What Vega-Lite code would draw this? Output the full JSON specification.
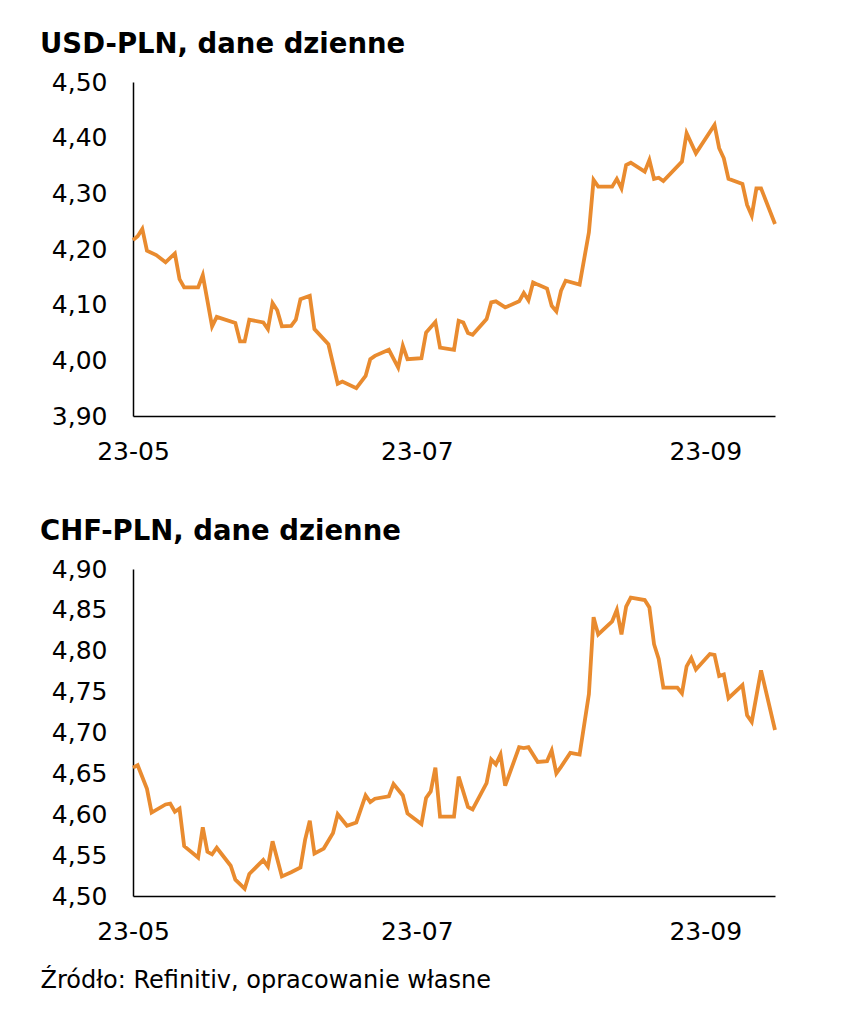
{
  "$schema": "https://vega.github.io/schema/vega-lite/v6.json",
  "background": "white",
  "padding": {"left": 40, "top": 30, "right": 10, "bottom": 10},
  "config": {
    "view": {"stroke": null},
    "font": "DejaVu Sans",
    "concat": {"spacing": 53},
    "axis": {
      "grid": false,
      "ticks": false,
      "domainColor": "black",
      "domainWidth": 1.5,
      "labelColor": "black",
      "labelFont": "DejaVu Sans",
      "labelFontSize": 25,
      "labelOverlap": false,
      "labelFlush": false
    }
  },
  "datasets": {
    "usd": [
      {"date": "2023-05-01", "value": 4.216},
      {"date": "2023-05-02", "value": 4.223},
      {"date": "2023-05-03", "value": 4.236},
      {"date": "2023-05-04", "value": 4.197},
      {"date": "2023-05-06", "value": 4.189},
      {"date": "2023-05-08", "value": 4.176},
      {"date": "2023-05-10", "value": 4.192},
      {"date": "2023-05-11", "value": 4.146},
      {"date": "2023-05-12", "value": 4.131},
      {"date": "2023-05-15", "value": 4.131},
      {"date": "2023-05-16", "value": 4.153},
      {"date": "2023-05-18", "value": 4.061},
      {"date": "2023-05-19", "value": 4.078},
      {"date": "2023-05-23", "value": 4.067},
      {"date": "2023-05-24", "value": 4.034},
      {"date": "2023-05-25", "value": 4.034},
      {"date": "2023-05-26", "value": 4.073},
      {"date": "2023-05-29", "value": 4.068},
      {"date": "2023-05-30", "value": 4.056},
      {"date": "2023-05-31", "value": 4.103},
      {"date": "2023-06-01", "value": 4.090},
      {"date": "2023-06-02", "value": 4.061},
      {"date": "2023-06-04", "value": 4.062},
      {"date": "2023-06-05", "value": 4.073},
      {"date": "2023-06-06", "value": 4.110},
      {"date": "2023-06-08", "value": 4.116},
      {"date": "2023-06-09", "value": 4.056},
      {"date": "2023-06-12", "value": 4.029},
      {"date": "2023-06-14", "value": 3.958},
      {"date": "2023-06-15", "value": 3.962},
      {"date": "2023-06-18", "value": 3.950},
      {"date": "2023-06-20", "value": 3.972},
      {"date": "2023-06-21", "value": 4.002},
      {"date": "2023-06-22", "value": 4.008},
      {"date": "2023-06-25", "value": 4.019},
      {"date": "2023-06-27", "value": 3.987},
      {"date": "2023-06-28", "value": 4.026},
      {"date": "2023-06-29", "value": 4.002},
      {"date": "2023-07-02", "value": 4.004},
      {"date": "2023-07-03", "value": 4.050},
      {"date": "2023-07-05", "value": 4.069},
      {"date": "2023-07-06", "value": 4.023},
      {"date": "2023-07-09", "value": 4.019},
      {"date": "2023-07-10", "value": 4.071},
      {"date": "2023-07-11", "value": 4.068},
      {"date": "2023-07-12", "value": 4.049},
      {"date": "2023-07-13", "value": 4.046},
      {"date": "2023-07-16", "value": 4.074},
      {"date": "2023-07-17", "value": 4.104},
      {"date": "2023-07-18", "value": 4.106},
      {"date": "2023-07-20", "value": 4.095},
      {"date": "2023-07-23", "value": 4.106},
      {"date": "2023-07-24", "value": 4.121},
      {"date": "2023-07-25", "value": 4.108},
      {"date": "2023-07-26", "value": 4.140},
      {"date": "2023-07-27", "value": 4.136},
      {"date": "2023-07-29", "value": 4.129},
      {"date": "2023-07-30", "value": 4.098},
      {"date": "2023-07-31", "value": 4.088},
      {"date": "2023-08-01", "value": 4.125},
      {"date": "2023-08-02", "value": 4.143},
      {"date": "2023-08-05", "value": 4.136},
      {"date": "2023-08-07", "value": 4.230},
      {"date": "2023-08-08", "value": 4.324},
      {"date": "2023-08-09", "value": 4.312},
      {"date": "2023-08-12", "value": 4.312},
      {"date": "2023-08-13", "value": 4.326},
      {"date": "2023-08-14", "value": 4.309},
      {"date": "2023-08-15", "value": 4.351},
      {"date": "2023-08-16", "value": 4.355},
      {"date": "2023-08-19", "value": 4.339},
      {"date": "2023-08-20", "value": 4.360},
      {"date": "2023-08-21", "value": 4.326},
      {"date": "2023-08-22", "value": 4.328},
      {"date": "2023-08-23", "value": 4.322},
      {"date": "2023-08-27", "value": 4.357},
      {"date": "2023-08-28", "value": 4.408},
      {"date": "2023-08-30", "value": 4.372},
      {"date": "2023-09-03", "value": 4.423},
      {"date": "2023-09-04", "value": 4.381},
      {"date": "2023-09-05", "value": 4.363},
      {"date": "2023-09-06", "value": 4.326},
      {"date": "2023-09-09", "value": 4.317},
      {"date": "2023-09-10", "value": 4.279},
      {"date": "2023-09-11", "value": 4.260},
      {"date": "2023-09-12", "value": 4.309},
      {"date": "2023-09-13", "value": 4.309},
      {"date": "2023-09-16", "value": 4.245}
    ],
    "chf": [
      {"date": "2023-05-01", "value": 4.657},
      {"date": "2023-05-02", "value": 4.660},
      {"date": "2023-05-04", "value": 4.631},
      {"date": "2023-05-05", "value": 4.602},
      {"date": "2023-05-08", "value": 4.612},
      {"date": "2023-05-09", "value": 4.613},
      {"date": "2023-05-10", "value": 4.603},
      {"date": "2023-05-11", "value": 4.607},
      {"date": "2023-05-12", "value": 4.561},
      {"date": "2023-05-15", "value": 4.547},
      {"date": "2023-05-16", "value": 4.584},
      {"date": "2023-05-17", "value": 4.554},
      {"date": "2023-05-18", "value": 4.551},
      {"date": "2023-05-19", "value": 4.559},
      {"date": "2023-05-22", "value": 4.537},
      {"date": "2023-05-23", "value": 4.520},
      {"date": "2023-05-25", "value": 4.509},
      {"date": "2023-05-26", "value": 4.527},
      {"date": "2023-05-29", "value": 4.544},
      {"date": "2023-05-30", "value": 4.536},
      {"date": "2023-05-31", "value": 4.567},
      {"date": "2023-06-02", "value": 4.524},
      {"date": "2023-06-04", "value": 4.529},
      {"date": "2023-06-06", "value": 4.535},
      {"date": "2023-06-07", "value": 4.569},
      {"date": "2023-06-08", "value": 4.592},
      {"date": "2023-06-09", "value": 4.552},
      {"date": "2023-06-11", "value": 4.558},
      {"date": "2023-06-13", "value": 4.577},
      {"date": "2023-06-14", "value": 4.600},
      {"date": "2023-06-16", "value": 4.586},
      {"date": "2023-06-18", "value": 4.590},
      {"date": "2023-06-20", "value": 4.623},
      {"date": "2023-06-21", "value": 4.615},
      {"date": "2023-06-22", "value": 4.619},
      {"date": "2023-06-25", "value": 4.622},
      {"date": "2023-06-26", "value": 4.637},
      {"date": "2023-06-28", "value": 4.623},
      {"date": "2023-06-29", "value": 4.601},
      {"date": "2023-07-02", "value": 4.588},
      {"date": "2023-07-03", "value": 4.620},
      {"date": "2023-07-04", "value": 4.628},
      {"date": "2023-07-05", "value": 4.657},
      {"date": "2023-07-06", "value": 4.597},
      {"date": "2023-07-09", "value": 4.597},
      {"date": "2023-07-10", "value": 4.646},
      {"date": "2023-07-12", "value": 4.609},
      {"date": "2023-07-13", "value": 4.606},
      {"date": "2023-07-16", "value": 4.638},
      {"date": "2023-07-17", "value": 4.667},
      {"date": "2023-07-18", "value": 4.661},
      {"date": "2023-07-19", "value": 4.673},
      {"date": "2023-07-20", "value": 4.635},
      {"date": "2023-07-23", "value": 4.682},
      {"date": "2023-07-24", "value": 4.681},
      {"date": "2023-07-25", "value": 4.682},
      {"date": "2023-07-27", "value": 4.664},
      {"date": "2023-07-29", "value": 4.665},
      {"date": "2023-07-30", "value": 4.678},
      {"date": "2023-07-31", "value": 4.650},
      {"date": "2023-08-01", "value": 4.658},
      {"date": "2023-08-03", "value": 4.675},
      {"date": "2023-08-05", "value": 4.673},
      {"date": "2023-08-07", "value": 4.747},
      {"date": "2023-08-08", "value": 4.841},
      {"date": "2023-08-09", "value": 4.820},
      {"date": "2023-08-12", "value": 4.836},
      {"date": "2023-08-13", "value": 4.850},
      {"date": "2023-08-14", "value": 4.820},
      {"date": "2023-08-15", "value": 4.854},
      {"date": "2023-08-16", "value": 4.865},
      {"date": "2023-08-19", "value": 4.862},
      {"date": "2023-08-20", "value": 4.853},
      {"date": "2023-08-21", "value": 4.808},
      {"date": "2023-08-22", "value": 4.790},
      {"date": "2023-08-23", "value": 4.755},
      {"date": "2023-08-26", "value": 4.755},
      {"date": "2023-08-27", "value": 4.748},
      {"date": "2023-08-28", "value": 4.781},
      {"date": "2023-08-29", "value": 4.791},
      {"date": "2023-08-30", "value": 4.777},
      {"date": "2023-09-02", "value": 4.796},
      {"date": "2023-09-03", "value": 4.795},
      {"date": "2023-09-04", "value": 4.769},
      {"date": "2023-09-05", "value": 4.771},
      {"date": "2023-09-06", "value": 4.742},
      {"date": "2023-09-09", "value": 4.758},
      {"date": "2023-09-10", "value": 4.721},
      {"date": "2023-09-11", "value": 4.713},
      {"date": "2023-09-13", "value": 4.776},
      {"date": "2023-09-16", "value": 4.703}
    ]
  },
  "vconcat": [
    {
      "title": {
        "text": "USD-PLN, dane dzienne",
        "anchor": "start",
        "frame": "group",
        "dx": -93,
        "fontSize": 27.5,
        "fontWeight": "bold",
        "font": "DejaVu Sans",
        "color": "black",
        "baseline": "alphabetic",
        "offset": -10
      },
      "width": 642,
      "height": 334,
      "data": {"name": "usd"},
      "mark": {"type": "line", "color": "#E98B2F", "strokeWidth": 3.8},
      "encoding": {
        "x": {
          "field": "date",
          "type": "temporal",
          "scale": {
            "type": "utc",
            "domain": [
              {"year": 2023, "month": 5, "date": 1, "utc": true},
              {"year": 2023, "month": 9, "date": 16, "utc": true}
            ]
          },
          "axis": {
            "title": null,
            "values": [
              {"year": 2023, "month": 5, "date": 1, "utc": true},
              {"year": 2023, "month": 7, "date": 1, "utc": true},
              {"year": 2023, "month": 9, "date": 1, "utc": true}
            ],
            "labelExpr": "utcFormat(datum.value, '%y-%m')",
            "labelPadding": 23
          }
        },
        "y": {
          "field": "value",
          "type": "quantitative",
          "scale": {"domain": [3.9, 4.5], "nice": false, "zero": false},
          "axis": {
            "title": null,
            "values": [3.9, 4.0, 4.1, 4.2, 4.3, 4.4, 4.5],
            "labelExpr": "replace(format(datum.value, '.2f'), '.', ',')",
            "labelPadding": 26
          }
        }
      }
    },
    {
      "title": {
        "text": "CHF-PLN, dane dzienne",
        "anchor": "start",
        "frame": "group",
        "dx": -93,
        "fontSize": 27.5,
        "fontWeight": "bold",
        "font": "DejaVu Sans",
        "color": "black",
        "baseline": "alphabetic",
        "offset": -10
      },
      "width": 642,
      "height": 327,
      "data": {"name": "chf"},
      "mark": {"type": "line", "color": "#E98B2F", "strokeWidth": 3.8},
      "encoding": {
        "x": {
          "field": "date",
          "type": "temporal",
          "scale": {
            "type": "utc",
            "domain": [
              {"year": 2023, "month": 5, "date": 1, "utc": true},
              {"year": 2023, "month": 9, "date": 16, "utc": true}
            ]
          },
          "axis": {
            "title": "Źródło: Refinitiv, opracowanie własne",
            "titleX": -93,
            "titleY": 91,
            "titleAlign": "left",
            "titleAnchor": "start",
            "titleBaseline": "alphabetic",
            "titleFont": "DejaVu Sans",
            "titleFontSize": 24,
            "titleFontWeight": "normal",
            "titleColor": "black",
            "values": [
              {"year": 2023, "month": 5, "date": 1, "utc": true},
              {"year": 2023, "month": 7, "date": 1, "utc": true},
              {"year": 2023, "month": 9, "date": 1, "utc": true}
            ],
            "labelExpr": "utcFormat(datum.value, '%y-%m')",
            "labelPadding": 23
          }
        },
        "y": {
          "field": "value",
          "type": "quantitative",
          "scale": {"domain": [4.5, 4.9], "nice": false, "zero": false},
          "axis": {
            "title": null,
            "values": [4.5, 4.55, 4.6, 4.65, 4.7, 4.75, 4.8, 4.85, 4.9],
            "labelExpr": "replace(format(datum.value, '.2f'), '.', ',')",
            "labelPadding": 26
          }
        }
      }
    }
  ]
}
